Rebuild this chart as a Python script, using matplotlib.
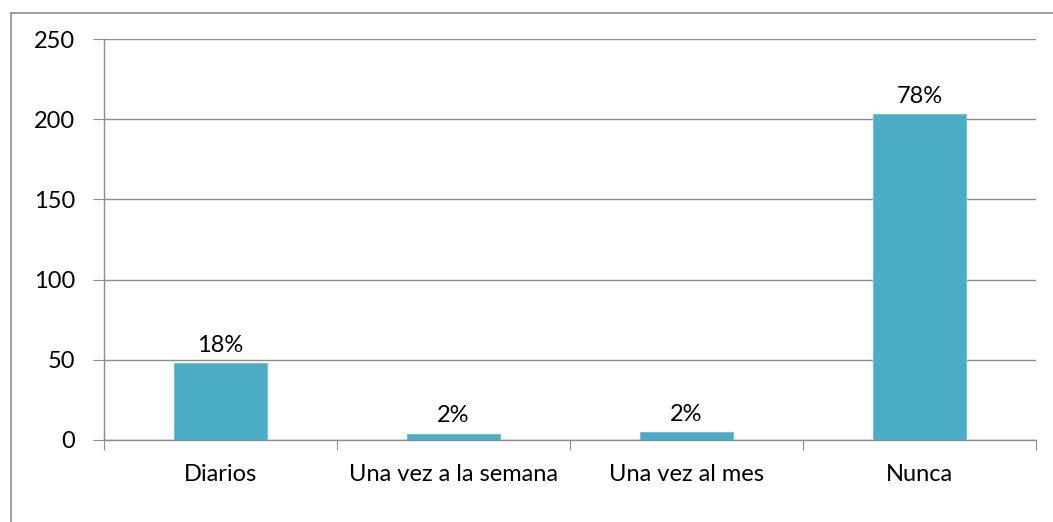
import matplotlib.pyplot as plt
import numpy as np
from matplotlib.lines import Line2D

# data
categories = ['Diarios', 'Una vez a la semana', 'Una vez al mes', 'Nunca']
counts = [48, 4, 5, 203]
pct_labels = ['18%', '2%', '2%', '78%']
y_ticks = [0, 50, 100, 150, 200, 250]

plt.rcParams['font.family'] = ['Lato', 'DejaVu Sans']
fs = 17

fig = plt.figure(figsize=(10.53, 5.22), dpi=100)
ax = fig.add_axes([104 / 1053, 1 - 440 / 522, (1036 - 104) / 1053, (440 - 39) / 522])

x = np.arange(len(categories))
bars = ax.bar(x, counts, width=0.4, color='#4BACC6', edgecolor='#6FC0D4', linewidth=0.8, zorder=3)

for b, lab in zip(bars, pct_labels):
    ax.annotate(lab, (b.get_x() + b.get_width() / 2, b.get_height()),
                xytext=(0, 8), textcoords='offset points',
                ha='center', va='baseline', fontsize=fs, color='black')

ax.set_xlim(-0.5, len(categories) - 0.5)
ax.set_ylim(0, 250)
ax.set_yticks(y_ticks)
ax.set_yticklabels([str(v) for v in y_ticks], fontsize=fs)
ax.yaxis.grid(True, color='#8C8C8C', linewidth=1.0, zorder=0)

# category ticks between bars, labels centred
ax.set_xticks(np.arange(-0.5, len(categories), 1.0))
ax.set_xticklabels([])
ax.set_xticks(x, minor=True)
ax.set_xticklabels(categories, minor=True, fontsize=fs)
ax.tick_params(axis='x', which='minor', length=0, pad=17)
ax.tick_params(axis='x', which='major', length=7, color='#8C8C8C', direction='out')
ax.tick_params(axis='y', length=8, color='#8C8C8C', direction='out', pad=13)

for s in ['top', 'right']:
    ax.spines[s].set_visible(False)
for s in ['left', 'bottom']:
    ax.spines[s].set_color('#8C8C8C')
    ax.spines[s].set_linewidth(1.0)

# outer chart border (only left and top edges fall inside the picture)
fig.lines.append(Line2D([10.5 / 1053, 10.5 / 1053], [0, 1 - 12.5 / 522], transform=fig.transFigure,
                        color='#8C8C8C', linewidth=1.2))
fig.lines.append(Line2D([10.5 / 1053, 1], [1 - 12.5 / 522, 1 - 12.5 / 522], transform=fig.transFigure,
                        color='#8C8C8C', linewidth=1.2))

fig.savefig('out.png', dpi=100)
